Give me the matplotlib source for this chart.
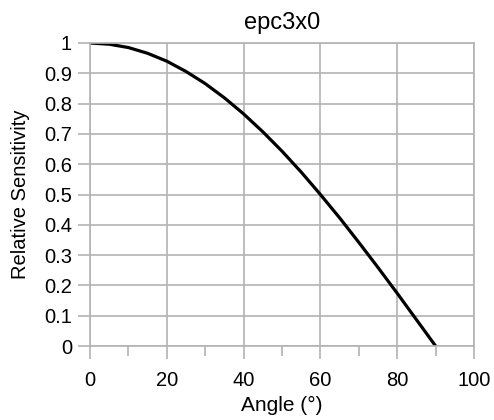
import matplotlib
matplotlib.use("Agg")
import matplotlib.pyplot as plt
from matplotlib.ticker import MultipleLocator

plt.rcParams['font.family'] = ['Liberation Sans', 'DejaVu Sans']

# values
angle = [0, 5, 10, 15, 20, 25, 30, 35, 40, 45, 50, 55, 60, 65, 70, 75, 80, 85, 90]
sensitivity = [1.0, 0.996, 0.985, 0.966, 0.94, 0.906, 0.866, 0.819, 0.766, 0.707,
               0.643, 0.574, 0.5, 0.423, 0.342, 0.259, 0.174, 0.087, 0.0]
yticks = [0, 0.1, 0.2, 0.3, 0.4, 0.5, 0.6, 0.7, 0.8, 0.9, 1]

grid_color = "#b3b3b3"

fig = plt.figure(figsize=(4.94, 4.2), dpi=100)
ax = fig.add_axes([90 / 494, 1 - 346 / 420, (474 - 90) / 494, (346 - 43) / 420])

ax.plot(angle, sensitivity, color="black", linewidth=2.3,
        solid_capstyle="butt", solid_joinstyle="round")

ax.set_xlim(0, 100)
ax.set_ylim(0, 1)
ax.xaxis.set_major_locator(MultipleLocator(20))
ax.xaxis.set_minor_locator(MultipleLocator(10))
ax.set_yticks(yticks)
ax.set_yticklabels([f"{v:g}" for v in yticks])

ax.grid(True, which="major", color=grid_color, linewidth=1.2)
ax.set_axisbelow(True)
for s in ax.spines.values():
    s.set_color(grid_color)
    s.set_linewidth(1.2)

ax.tick_params(axis="both", which="major", length=9, width=1.2, color=grid_color,
               labelsize=14.5, pad=4)
ax.tick_params(axis="x", which="major", pad=9)
ax.tick_params(axis="x", which="minor", length=7, width=1.2, color=grid_color)

ax.set_title("epc3x0", fontsize=17, pad=10)
ax.set_xlabel("Angle (°)", fontsize=15, labelpad=4)
ax.set_ylabel("Relative Sensitivity", fontsize=14.5, labelpad=10)

fig.savefig("out.png", dpi=100)
